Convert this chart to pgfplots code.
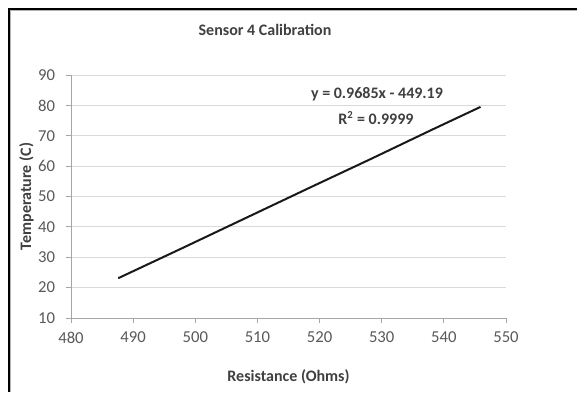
\documentclass[border=0pt]{standalone}
\usepackage{pgfplots}
\pgfplotsset{compat=1.18}
\usepackage{fontspec}
\setmainfont{Carlito}
\definecolor{txt}{HTML}{404040}
\definecolor{tick}{HTML}{595959}
\definecolor{gridc}{HTML}{D9D9D9}
\definecolor{axc}{HTML}{A6A6A6}
\begin{document}
\begin{tikzpicture}[x=0.75pt,y=0.75pt]
\useasboundingbox (-71,-74) rectangle (506,318);
\fill[white] (-71,-74) rectangle (506,318);
\draw[black,line width=1.4pt] (-62,-74) -- (-62,309) -- (506,309);
\draw[gray!60,line width=0.9pt] (-60.2,-74) -- (-60.2,307.2) -- (506,307.2);
\node[font=\fontsize{12}{14}\selectfont\bfseries,text=txt] at (194,288) {Sensor 4 Calibration};
\begin{axis}[
  scale only axis, width=326.25pt, height=182.25pt,
  xmin=480, xmax=550, ymin=10, ymax=90,
  xtick={480,490,...,550}, ytick={10,20,...,90},
  axis x line*=bottom, axis y line*=left,
  axis line style={axc, line width=0.6pt, -},
  tick style={axc, line width=0.6pt},
  tick align=outside, major tick length=4pt,
  ymajorgrids, grid style={gridc, line width=0.6pt},
  x tick label style={font=\fontsize{12.5}{14}\selectfont, text=tick, yshift=-3pt},
  y tick label style={font=\fontsize{12.5}{14}\selectfont, text=tick, xshift=-4.5pt},
  /pgf/number format/assume math mode=true,
  xlabel={Resistance (Ohms)}, ylabel={Temperature (C)},
  xlabel style={font=\fontsize{12}{14}\selectfont\bfseries, text=txt, yshift=-13pt},
  ylabel style={font=\fontsize{12}{14}\selectfont\bfseries, text=txt, yshift=-3.5pt},
  clip=false,
]
\addplot[black!90, line width=1.5pt, no marks] coordinates {
(487.6,23.1) (497.8,32.9) (508.1,42.9) (518.2,52.7) (528.4,62.5) (538.1,72.0) (545.9,79.5)
};
\end{axis}
\node[font=\fontsize{12}{14}\selectfont\bfseries,text=txt] at (306,224) {y = 0.9685x - 449.19};
\node[font=\fontsize{12}{14}\selectfont\bfseries,text=txt] at (305,200) {R\textsuperscript{2} = 0.9999};
\end{tikzpicture}
\end{document}
